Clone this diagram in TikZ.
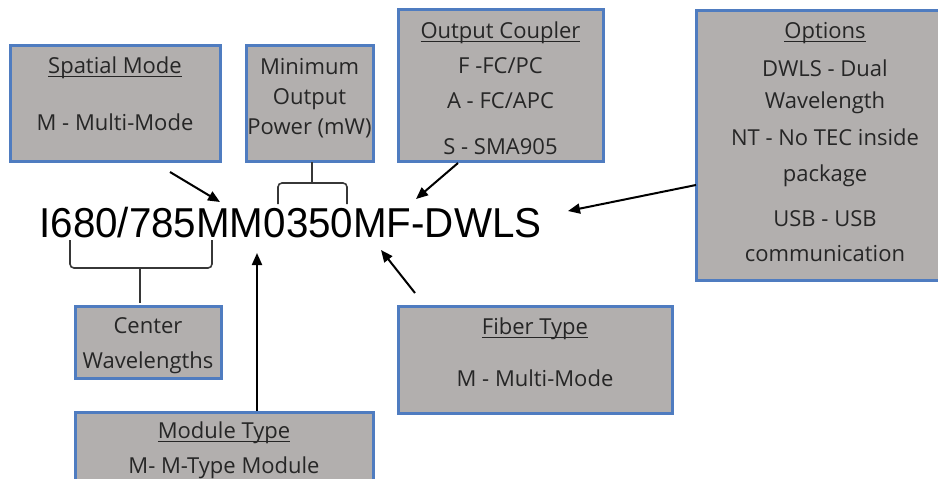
\documentclass[tikz,border=0pt]{standalone}
\usepackage{fontspec}
\setmainfont{Open Sans}
\newfontfamily\codefont{Liberation Sans}
\usepackage{tikz}
\usetikzlibrary{arrows.meta}

\definecolor{boxgray}{RGB}{178,175,174}
\definecolor{boxblue}{RGB}{79,124,192}
\definecolor{txtgray}{RGB}{38,38,38}
\definecolor{bracegray}{RGB}{55,55,55}
\newcommand{\titleline}[1]{\underline{\smash{#1}}\vphantom{A}}
\newcommand{\boxfont}{\fontsize{11}{17.5}\selectfont}

\begin{document}
\begin{tikzpicture}[x=0.5pt,y=-0.5pt,
    infobox/.style={draw=boxblue,fill=boxgray,line width=1.5pt,inner sep=0pt},
    boxtext/.style={text=txtgray,font=\boxfont,align=center,inner sep=0pt},
    ptr/.style={-{Triangle[length=6pt,width=5pt]},line width=1pt},
    brace/.style={draw=bracegray,line width=0.8pt,rounded corners=2pt}]
    \useasboundingbox (0,0) rectangle (938,478);
    % boxes
    \node[infobox,minimum width=105pt,minimum height=58pt] (spatial) at (115,103) {};
    \node[infobox,minimum width=63.5pt,minimum height=58pt] (power) at (309.5,103) {};
    \node[infobox,minimum width=102.5pt,minimum height=76pt] (coupler) at (500.5,85) {};
    \node[infobox,minimum width=129pt,minimum height=135pt] (options) at (825,145) {};
    \node[infobox,minimum width=73pt,minimum height=36pt] (centerwl) at (148,342) {};
    \node[infobox,minimum width=149pt,minimum height=36.5pt] (module) at (224,448.5) {};
    \node[infobox,minimum width=137pt,minimum height=53.5pt] (fiber) at (535,359.5) {};
    % box texts
    \node[boxtext] (spatialtxt) at (115,94.5) {\titleline{Spatial Mode}\\[11pt]M - Multi-Mode};
    \node[boxtext] (powertxt) at (309.5,98) {Minimum\\[-2.5pt]Output\\[-2.5pt]Power (mW)};
    \node[boxtext] (couplertxt) at (500.5,88.5) {\titleline{Output Coupler}\\F -FC/PC\\A - FC/APC\\[5.5pt]S - SMA905};
    \node[boxtext] (optionstxt) at (825,142.5) {\titleline{Options}\\[1.5pt]DWLS - Dual\\[-1.5pt]Wavelength\\[1pt]NT - No TEC inside\\[0.5pt]package\\[5pt]USB - USB\\communication};
    \node[boxtext] (centerwltxt) at (148,345.5) {Center\\Wavelengths};
    \node[boxtext] (moduletxt) at (224,450.5) {\titleline{Module Type}\\M- M-Type Module};
    \node[boxtext] (fibertxt) at (535,353) {\titleline{Fiber Type}\\[8.5pt]M - Multi-Mode};
    % part number
    \node[anchor=base west,inner sep=0pt,font=\codefont\fontsize{20.9}{24}\selectfont] (code) at (39,237)
        {\scalebox{0.965}[1]{I680/785MM0350MF-DWLS}};
    % braces
    \draw[brace] (70,240) -- (70,268) -- (212,268) -- (212,240);
    \draw[brace] (140,268) -- (140,303);
    \draw[brace] (278,204) -- (278,183) -- (347,183) -- (347,204);
    \draw[brace] (312,183) -- (312,162);
    % arrows
    \coordinate (spatialA) at (170,172);
    \coordinate (spatialB) at (220,202);
    \coordinate (couplerA) at (458,163);
    \coordinate (couplerB) at (416,199);
    \coordinate (optionsA) at (696,185);
    \coordinate (optionsB) at (568,211);
    \coordinate (fiberA) at (415,293);
    \coordinate (fiberB) at (381,250);
    \coordinate (moduleA) at (257,411);
    \coordinate (moduleB) at (257,253);
    \draw[ptr] (spatialA) -- (spatialB);
    \draw[ptr] (couplerA) -- (couplerB);
    \draw[ptr] (optionsA) -- (optionsB);
    \draw[ptr] (fiberA) -- (fiberB);
    \draw[ptr] (moduleA) -- (moduleB);
\end{tikzpicture}
\end{document}
